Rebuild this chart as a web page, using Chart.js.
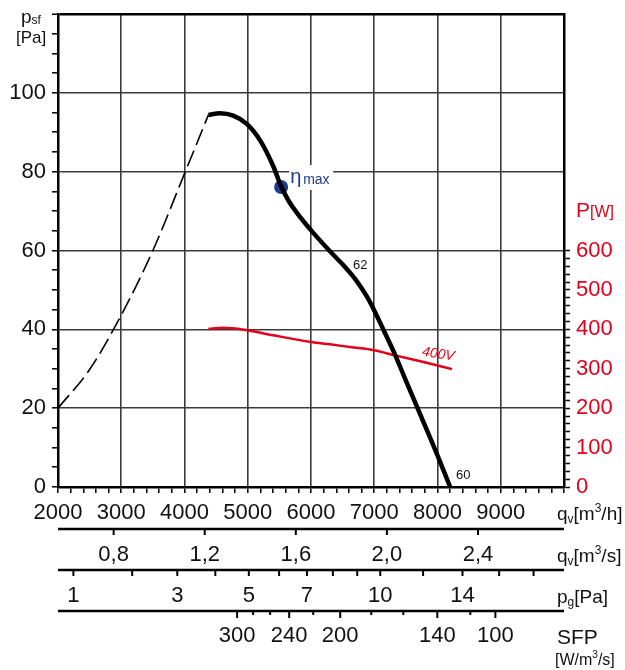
<!DOCTYPE html>
<html>
<head>
<meta charset="utf-8">
<script src="https://cdn.jsdelivr.net/npm/chart.js@4.4.1/dist/chart.umd.min.js"></script>
<style>
  body { margin: 0; background: #fff; }
  #wrap { width: 625px; height: 670px; position: relative; }
</style>
</head>
<body>
<div id="wrap"><canvas id="chart"></canvas></div>
<script>
// fan curve (m3/h -> Pa)
const pressureFlow = [4378, 4560, 4770, 4985, 5200, 5400, 5528, 5650, 5780, 6040, 6300, 6510, 6720, 6880, 7000, 7160, 7333, 7500, 7680, 7990, 8200];
const pressureValues = [94.4, 94.8, 94.2, 92.1, 87.8, 81.5, 76.3, 72.5, 69.5, 64.4, 59.8, 56.3, 52.3, 48.4, 44.8, 39.4, 33.4, 27, 20.2, 8.4, 0];

// unstable range, dashed
const stallFlow = [2000, 2500, 3000, 3500, 4000, 4378];
const stallValues = [20, 29.8, 43.6, 60, 79.5, 94.4];

// input power 400V (W)
const powerFlow = [4378, 4600, 4800, 5010, 5400, 6000, 6300, 6620, 7000, 7330, 7780, 8230];
const powerValues = [401, 404, 402, 397, 385, 368, 362, 355, 347, 334, 317, 299];

// best efficiency point
const etaFlow = [5528];
const etaValues = [76.1];

// extra scales under the chart
const qvSecTicks = [0.8, 1.2, 1.6, 2.0, 2.4];
const pgTicks = [1, 2, 3, 4, 5, 6, 7, 8, 9, 10, 12, 14, 16, 18];
const pgLabels = [1, 3, 5, 7, 10, 14];
const pgRefFlow = 7095; // m3/h where pg = 10 Pa
const sfpTicks = [300, 280, 260, 240, 220, 200, 180, 160, 140, 120, 100];
const sfpFlow = [4832, 5085, 5354, 5655, 6035, 6462, 6953, 7459, 7997, 8519, 8915];
const sfpLabels = [300, 240, 200, 140, 100];

const RED = '#e2001a';
const BLUE = '#1d3b8f';
const FONT = 'Arial, "Liberation Sans", sans-serif';

function toPoints(xs, ys) {
    return xs.map((v, i) => ({ x: v, y: ys[i] }));
}

// draws text pieces one after another (sub/superscripts)
function richText(ctx, x, y, parts) {
    let cx = x;
    for (const [t, size, dy] of parts) {
        ctx.font = size + 'px ' + FONT;
        ctx.fillText(t, cx, y + (dy || 0));
        cx += ctx.measureText(t).width;
    }
}

const extras = {
    id: 'extras',
    beforeDatasetsDraw(chart) {
        const { ctx, scales: { x, y } } = chart;
        const px = x.getPixelForValue(etaFlow[0]);
        const py = y.getPixelForValue(etaValues[0]);
        ctx.save();
        ctx.fillStyle = '#fff';
        ctx.fillRect(px + 8, py - 22, 44, 25);
        ctx.restore();
    },
    afterDraw(chart) {
        const { ctx, chartArea: area, scales: { x, y, y2 } } = chart;
        ctx.save();
        ctx.strokeStyle = '#000';
        ctx.fillStyle = '#111';
        ctx.textAlign = 'center';
        ctx.textBaseline = 'middle';

        const axisLine = (yy) => {
            ctx.lineWidth = 2.5;
            ctx.beginPath();
            ctx.moveTo(area.left, yy);
            ctx.lineTo(area.right, yy);
            ctx.stroke();
        };
        const tick = (xx, yy, len) => {
            ctx.lineWidth = 2;
            ctx.beginPath();
            ctx.moveTo(xx, yy);
            ctx.lineTo(xx, yy + len);
            ctx.stroke();
        };

        ctx.font = '22px ' + FONT;

        // qv [m3/s]
        const y1 = area.bottom + 42;
        axisLine(y1);
        for (const v of qvSecTicks) {
            const xx = x.getPixelForValue(v * 3600);
            tick(xx, y1, 6);
            ctx.fillText(v.toFixed(1).replace('.', ','), xx, y1 + 26);
        }

        // pg [Pa]
        const yPg = area.bottom + 83;
        axisLine(yPg);
        for (const v of pgTicks) {
            const xx = x.getPixelForValue(pgRefFlow * Math.sqrt(v / 10));
            tick(xx, yPg, 6);
            if (pgLabels.includes(v)) ctx.fillText(String(v), xx, yPg + 26);
        }

        // SFP
        const ySfp = area.bottom + 124;
        axisLine(ySfp);
        sfpTicks.forEach((v, i) => {
            const xx = x.getPixelForValue(sfpFlow[i]);
            const major = sfpLabels.includes(v);
            tick(xx, ySfp, major ? 7 : 4);
            if (major) ctx.fillText(String(v), xx, ySfp + 25);
        });

        // axis titles
        ctx.textAlign = 'left';
        ctx.textBaseline = 'alphabetic';
        const tx = area.right - 7;
        richText(ctx, tx, area.bottom + 33, [['q', 19], ['v', 12, 3], ['[m', 19], ['3', 12, -8], ['/h]', 19]]);
        richText(ctx, tx, y1 + 33, [['q', 19], ['v', 12, 3], ['[m', 19], ['3', 12, -8], ['/s]', 19]]);
        richText(ctx, tx, yPg + 33, [['p', 19], ['g', 12, 3], ['[Pa]', 19]]);
        richText(ctx, tx, ySfp + 33, [['SFP', 21]]);
        richText(ctx, tx - 2, ySfp + 54, [['[W/m', 16], ['3', 10, -7], ['/s]', 16]]);

        // left title
        richText(ctx, 21, 23, [['p', 19], ['sf', 12, 1]]);
        richText(ctx, 16, 43, [['[Pa]', 17]]);

        // right title
        ctx.fillStyle = RED;
        const yP = y2.getPixelForValue(600) - 34;
        richText(ctx, area.right + 12, yP, [['P', 21], ['[W]', 16]]);

        // eta max label
        const px = x.getPixelForValue(etaFlow[0]);
        const py = y.getPixelForValue(etaValues[0]);
        ctx.fillStyle = BLUE;
        richText(ctx, px + 9, py - 4, [['\u03b7', 20]]);
        richText(ctx, px + 22, py - 3, [['max', 14]]);

        // curve labels
        ctx.fillStyle = '#111';
        ctx.textAlign = 'center';
        ctx.textBaseline = 'middle';
        ctx.font = '13px ' + FONT;
        ctx.fillText('62', x.getPixelForValue(6778), y.getPixelForValue(56.2));
        ctx.fillText('60', x.getPixelForValue(8408), y.getPixelForValue(3.0));

        ctx.fillStyle = RED;
        ctx.font = 'italic 14px ' + FONT;
        ctx.translate(x.getPixelForValue(8013), y2.getPixelForValue(337));
        ctx.rotate(0.16);
        ctx.fillText('400V', 0, 0);
        ctx.restore();
    }
};

const frameColor = (v, lo, hi) => (v === lo || v === hi) ? '#000' : '#3a3a3a';
const noPadV = s => { s.paddingTop = 0; s.paddingBottom = 0; };

new Chart(document.getElementById('chart'), {
    type: 'line',
    data: {
        datasets: [
            {
                data: toPoints(pressureFlow, pressureValues),
                borderColor: '#000',
                borderWidth: 4.5,
                pointRadius: 0,
                cubicInterpolationMode: 'monotone',
                yAxisID: 'y'
            },
            {
                data: toPoints(stallFlow, stallValues),
                borderColor: '#000',
                borderWidth: 1.6,
                borderDash: [17, 6],
                pointRadius: 0,
                cubicInterpolationMode: 'monotone',
                yAxisID: 'y'
            },
            {
                data: toPoints(powerFlow, powerValues),
                borderColor: RED,
                borderWidth: 2.5,
                pointRadius: 0,
                cubicInterpolationMode: 'monotone',
                yAxisID: 'y2'
            },
            {
                type: 'scatter',
                data: toPoints(etaFlow, etaValues),
                backgroundColor: BLUE,
                borderWidth: 0,
                pointRadius: 7,
                yAxisID: 'y'
            }
        ]
    },
    options: {
        responsive: true,
        maintainAspectRatio: false,
        animation: false,
        layout: { padding: { top: 14, left: 0, right: 0, bottom: 0 } },
        plugins: { legend: { display: false }, tooltip: { enabled: false } },
        scales: {
            x: {
                type: 'linear',
                min: 2000,
                max: 10000,
                ticks: {
                    stepSize: 200,
                    autoSkip: false,
                    maxRotation: 0,
                    padding: 7,
                    color: '#111',
                    font: { size: 22, family: FONT },
                    callback: v => (v % 1000 === 0 && v < 10000) ? v : ''
                },
                grid: {
                    color: c => c.tick.value % 1000 === 0 ? frameColor(c.tick.value, 2000, 10000) : 'transparent',
                    lineWidth: 1.6,
                    tickColor: '#000',
                    tickLength: 6,
                    tickWidth: 1.5
                },
                border: { color: '#000', width: 2.5 },
                afterFit: s => { s.height = 183; s.paddingLeft = 0; s.paddingRight = 0; }
            },
            y: {
                min: 0,
                max: 120,
                ticks: {
                    stepSize: 5,
                    autoSkip: false,
                    padding: 6,
                    color: '#111',
                    font: { size: 22, family: FONT },
                    callback: v => (v % 20 === 0 && v <= 100) ? v : ''
                },
                grid: {
                    color: c => c.tick.value % 20 === 0 ? frameColor(c.tick.value, 0, 120) : 'transparent',
                    lineWidth: c => c.tick.value === 120 ? 2.5 : 1.6,
                    tickColor: '#000',
                    tickLength: 6,
                    tickWidth: 1.5
                },
                border: { color: '#000', width: 2.5 },
                afterFit: s => { s.width = 58; noPadV(s); }
            },
            y2: {
                position: 'right',
                min: 0,
                max: 1200,
                ticks: {
                    stepSize: 20,
                    autoSkip: false,
                    padding: 6,
                    color: RED,
                    font: { size: 22, family: FONT },
                    callback: v => (v % 100 === 0 && v <= 600) ? v : ''
                },
                grid: {
                    drawOnChartArea: false,
                    tickColor: c => c.tick.value <= 600 ? '#000' : 'transparent',
                    tickLength: 6,
                    tickWidth: 1.5
                },
                border: { color: '#000', width: 2.5 },
                afterFit: s => { s.width = 61; noPadV(s); }
            }
        }
    },
    plugins: [extras]
});
</script>
</body>
</html>
